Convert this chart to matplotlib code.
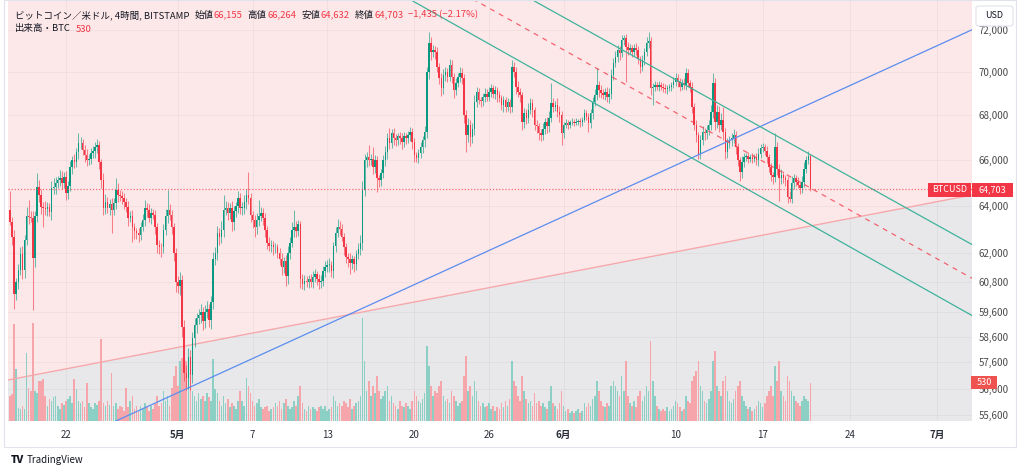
import numpy as np
import matplotlib.pyplot as plt
from matplotlib.transforms import blended_transform_factory
from matplotlib.patches import Rectangle, FancyBboxPatch
from matplotlib.ticker import NullLocator

plt.rcParams['font.family'] = ['Noto Sans CJK JP', 'DejaVu Sans']

W, H = 1024, 474

# 4h candles, first candle opens Apr 17 12:00 (day 0 = Apr 22 00:00)
first_day = -4.5
first_open = 63830
closes = [
    63320, 62650, 60320,
    60800, 61280, 61940, 61280, 62560, 63550, 63500, 63480, 61770, 63550, 64800, 64470,
    63960, 63900, 63850, 63950, 63740, 64760, 64800, 64980, 65110, 65200, 65000, 65230,
    64550, 64850, 65680, 65980, 65900, 66330, 66740, 66740, 66420, 66200, 65980, 66050,
    66300, 66400, 66560, 66650, 65900, 65110, 63900, 64170, 63900, 64050, 63830, 64100,
    64680, 64470, 64400, 64330, 64170, 63960, 63480, 63550, 63070, 62900, 62850, 62770,
    63100, 63400, 63900, 63830, 63480, 63700, 63620, 63100, 62350, 62250, 62230, 62980,
    63550, 63830, 63620, 63100, 62000, 60800, 60640, 60900, 59000, 57200, 57000, 57800,
    57100, 58550, 59050, 59340, 59460, 59600, 59230, 59600, 59720, 59270, 60000, 61730,
    62000, 62850, 62680, 62980, 63830, 63900, 63700, 63900, 63280, 63750, 63970, 64330,
    63900, 63900, 64170, 64470, 64330, 63620, 63400, 63100, 63400, 63550, 63700, 63480,
    62980, 62430, 62270, 62330, 62230, 62230, 62000, 61730, 61400, 61650, 61030, 62000,
    62430, 62980, 63100, 62900, 63200, 60920, 60720, 60850, 60800, 60920, 60800, 61000,
    61120, 60920, 60800, 60850, 61250, 61430, 61500, 61500, 61250, 62270, 62850, 63100,
    63000, 62680, 62230, 61850, 61730, 61600, 61730, 61530, 61940, 62150, 62430, 64680,
    65980, 66120, 65980, 66050, 65680, 65980, 65180, 65110, 65400, 65980, 66330, 66960,
    66740, 67190, 66960, 66870, 67050, 66960, 66780, 67050, 66960, 67100, 67230, 66780,
    66200, 66100, 66300, 66560, 66870, 67230, 70000, 71400, 70950, 71060, 70950, 70250,
    69730, 69260, 69870, 70000, 69780, 70340, 69780, 69170, 69500, 69780, 69960, 69730,
    68000, 67100, 67570, 67000, 67400, 68620, 69080, 68710, 68650, 68850, 69000, 68850,
    69080, 69260, 69000, 69170, 68930, 68800, 68480, 68710, 68400, 68620, 68400, 70250,
    70030, 69310, 69080, 68930, 67700, 68100, 67900, 68250, 68550, 68250, 67570, 67500,
    67180, 67100, 67400, 67700, 67500, 67900, 68550, 68400, 68480, 68180, 68000, 67190,
    67570, 67650, 67570, 67680, 67720, 67650, 67720, 67750, 67690, 67800, 68100, 67950,
    67650, 68100, 68620, 68940, 69400, 69170, 69040, 68940, 69100, 68850, 69000, 69870,
    70430, 70720, 71060, 70900, 71540, 71630, 71200, 71060, 71150, 70950, 71150, 71060,
    70620, 70250, 70580, 70950, 71400, 71480, 69260, 69330, 69400, 69330, 69400, 69330,
    69260, 69200, 69260, 69330, 69400, 69560, 69730, 69560, 69330, 69500, 69400, 69960,
    69500, 69330, 68400, 67570, 67100, 66280, 66870, 67230, 67180, 67320, 67570, 68180,
    69500, 67700, 68180, 67570, 67800, 67230, 66330, 66740, 66870, 66960, 67100, 66560,
    65980, 65450, 65900, 66120, 66150, 66050, 66120, 66050, 66120, 65980, 66280, 66520,
    66560, 66400, 66120, 65680, 65330, 65260, 66560, 65600, 65180, 65330, 65180, 65100,
    64380, 64300, 64980, 65180, 65040, 64900, 64760, 65040, 65600, 65980, 66155, 64703,
]
# wick lengths above / below the body, USD
wick_up = [
    820, 200, 300,
    150, 250, 300, 350, 200, 400, 700, 250, 300, 200, 620, 300,
    250, 200, 300, 200, 150, 300, 400, 250, 200, 350, 300, 250,
    300, 200, 250, 200, 300, 200, 450, 300, 200, 250, 300, 200,
    250, 200, 250, 300, 200, 150, 300, 350, 200, 250, 300, 250,
    520, 300, 200, 250, 200, 150, 250, 200, 250, 200, 150, 200,
    200, 250, 350, 200, 250, 200, 150, 200, 150, 200, 150, 250,
    300, 850, 250, 200, 150, 200, 250, 300, 200, 250, 300, 350,
    300, 250, 300, 200, 250, 300, 200, 250, 300, 200, 250, 300,
    250, 300, 200, 350, 640, 300, 250, 200, 300, 250, 200, 300,
    200, 250, 300, 250, 980, 200, 150, 200, 300, 700, 250, 200,
    200, 150, 250, 200, 150, 200, 150, 200, 250, 200, 250, 300,
    250, 300, 730, 250, 200, 150, 200, 250, 200, 150, 200, 250,
    200, 150, 200, 250, 200, 250, 200, 300, 150, 200, 250, 350,
    250, 200, 150, 200, 150, 250, 200, 150, 200, 250, 300, 400,
    300, 250, 530, 200, 510, 250, 200, 150, 200, 250, 300, 250,
    480, 200, 250, 200, 150, 200, 250, 200, 150, 200, 250, 200,
    200, 150, 200, 250, 200, 300, 250, 500, 300, 250, 200, 250,
    200, 250, 300, 250, 200, 300, 250, 200, 250, 200, 300, 250,
    200, 250, 300, 200, 250, 300, 250, 200, 150, 200, 250, 200,
    250, 200, 150, 200, 150, 200, 150, 200, 150, 200, 150, 330,
    250, 200, 300, 200, 150, 250, 200, 300, 250, 200, 150, 200,
    150, 200, 250, 200, 250, 300, 950, 250, 200, 300, 250, 200,
    150, 200, 150, 100, 150, 100, 150, 100, 150, 150, 200, 150,
    150, 200, 250, 300, 800, 200, 250, 200, 150, 200, 250, 300,
    250, 300, 250, 200, 250, 150, 200, 250, 200, 150, 200, 250,
    200, 150, 250, 200, 300, 420, 200, 150, 200, 150, 200, 150,
    150, 200, 150, 100, 150, 200, 250, 200, 150, 200, 250, 250,
    200, 150, 200, 150, 200, 150, 250, 300, 200, 250, 200, 300,
    460, 250, 300, 250, 300, 600, 200, 250, 200, 250, 300, 200,
    200, 150, 250, 200, 150, 200, 150, 200, 150, 200, 250, 200,
    200, 150, 200, 150, 200, 150, 620, 250, 200, 250, 200, 150,
    200, 250, 300, 200, 150, 200, 150, 250, 300, 200, 250, 109,
]
wick_dn = [
    150, 300, 600,
    250, 300, 200, 350, 300, 250, 300, 200, 2120, 350, 250, 300,
    300, 830, 250, 300, 200, 350, 250, 300, 200, 250, 300, 250,
    300, 250, 200, 300, 250, 200, 300, 250, 200, 300, 250, 200,
    250, 200, 300, 250, 300, 350, 300, 250, 200, 300, 980, 250,
    250, 300, 200, 250, 300, 250, 350, 200, 600, 300, 250, 300,
    250, 200, 250, 300, 200, 250, 200, 300, 350, 300, 420, 250,
    250, 300, 250, 300, 350, 400, 300, 350, 400, 300, 450, 400,
    550, 300, 350, 300, 250, 300, 350, 300, 250, 300, 350, 300,
    250, 300, 350, 250, 300, 250, 300, 250, 350, 300, 250, 300,
    250, 300, 250, 300, 250, 300, 350, 420, 300, 250, 200, 300,
    300, 250, 200, 250, 300, 250, 200, 250, 300, 250, 390, 300,
    250, 200, 300, 250, 200, 350, 200, 250, 200, 250, 200, 250,
    200, 250, 300, 250, 200, 250, 200, 300, 250, 300, 250, 200,
    250, 200, 300, 250, 300, 480, 250, 300, 250, 200, 250, 300,
    250, 300, 250, 200, 300, 250, 580, 300, 250, 200, 250, 300,
    250, 200, 300, 250, 200, 250, 300, 200, 250, 200, 250, 300,
    300, 200, 250, 200, 250, 300, 250, 300, 350, 250, 300, 250,
    300, 350, 250, 300, 250, 200, 300, 350, 250, 200, 250, 300,
    350, 770, 300, 400, 250, 300, 250, 200, 250, 200, 250, 200,
    200, 250, 200, 250, 300, 200, 250, 300, 250, 200, 300, 250,
    250, 300, 250, 300, 350, 260, 300, 250, 200, 300, 250, 300,
    300, 250, 200, 250, 300, 250, 200, 250, 200, 250, 300, 540,
    200, 150, 200, 150, 100, 150, 100, 150, 200, 150, 100, 150,
    420, 200, 250, 200, 250, 300, 250, 200, 250, 230, 300, 250,
    250, 200, 250, 300, 200, 250, 1640, 250, 200, 250, 200, 250,
    250, 300, 200, 250, 200, 250, 300, 780, 200, 150, 200, 150,
    200, 150, 200, 150, 200, 150, 200, 250, 200, 150, 200, 250,
    200, 250, 300, 250, 300, 230, 250, 200, 300, 250, 200, 250,
    300, 350, 250, 300, 250, 350, 300, 250, 200, 250, 200, 300,
    250, 380, 250, 200, 150, 200, 150, 200, 150, 200, 250, 200,
    150, 200, 250, 200, 250, 300, 250, 250, 1000, 250, 200, 250,
    250, 150, 200, 250, 200, 150, 250, 200, 250, 200, 150, 71,
]
# volume, BTC
volume = [
    350, 380, 1350,
    730, 180, 170, 210, 170, 950, 460, 420, 1370, 420, 390, 560,
    560, 590, 350, 210, 310, 280, 340, 350, 210, 170, 250, 220,
    280, 310, 350, 250, 590, 450, 280, 250, 280, 200, 530, 250,
    200, 170, 250, 220, 280, 1150, 250, 210, 280, 220, 670, 210,
    250, 170, 210, 200, 140, 460, 200, 280, 350, 170, 210, 140,
    210, 170, 250, 200, 140, 210, 170, 240, 350, 210, 250, 420,
    280, 350, 210, 460, 630, 770, 490, 840, 880, 980, 840, 700,
    630, 420, 350, 280, 390, 310, 350, 280, 390, 340, 280, 870,
    450, 390, 280, 210, 350, 250, 310, 200, 250, 210, 170, 280,
    420, 280, 210, 600, 490, 390, 280, 210, 250, 310, 200, 170,
    200, 210, 140, 170, 200, 250, 210, 280, 170, 250, 310, 210,
    170, 200, 280, 210, 350, 490, 250, 170, 140, 210, 170, 200,
    170, 140, 200, 210, 170, 210, 140, 170, 200, 350, 280, 210,
    250, 210, 280, 250, 200, 310, 170, 210, 250, 280, 350, 1430,
    840, 420, 560, 350, 490, 390, 630, 420, 310, 350, 420, 490,
    280, 350, 250, 210, 170, 280, 210, 200, 250, 210, 170, 280,
    420, 350, 280, 250, 310, 390, 1050, 770, 490, 350, 420, 390,
    490, 560, 350, 280, 310, 250, 420, 350, 280, 210, 250, 280,
    630, 910, 420, 490, 350, 560, 420, 280, 210, 250, 200, 210,
    250, 170, 210, 140, 200, 170, 250, 200, 280, 210, 310, 840,
    560, 490, 350, 280, 630, 420, 310, 250, 280, 210, 390, 250,
    280, 210, 250, 200, 170, 280, 490, 250, 210, 170, 250, 420,
    210, 140, 170, 110, 140, 110, 140, 170, 110, 140, 250, 200,
    250, 210, 310, 350, 560, 420, 280, 210, 200, 250, 210, 490,
    560, 490, 420, 350, 630, 420, 840, 350, 250, 210, 280, 200,
    350, 420, 280, 350, 490, 420, 1120, 560, 350, 210, 170, 140,
    170, 140, 200, 140, 170, 210, 280, 250, 200, 140, 170, 350,
    280, 250, 560, 630, 700, 840, 490, 420, 280, 250, 310, 420,
    840, 980, 490, 420, 350, 560, 630, 420, 280, 250, 310, 420,
    490, 560, 350, 280, 210, 170, 200, 140, 170, 210, 280, 250,
    200, 250, 350, 420, 490, 350, 770, 560, 840, 420, 350, 280,
    630, 560, 420, 350, 280, 250, 210, 280, 350, 310, 280, 530,
]
last_price = 64703
last_volume = 530

price_ticks = [72000, 70000, 68000, 66000, 64000, 62000, 60800, 59600, 58600, 57600, 56600, 55600]
tick_days = [0, 9, 15, 21, 28, 34, 40, 49, 56, 63, 70]
tick_labels = ['22', '5月', '7', '13', '20', '26', '6月', '10', '17', '24', '7月']
month_labels = ['5月', '6月', '7月']

# drawings: (days, prices)
pink_line = ([-4.66, 72.83], [56925, 64460])
blue_line = ([4.02, 72.83], [55380, 72030])
chan_upper = ([36.5, 72.83], [73830, 62350])
chan_mid = ([32.5, 72.83], [73600, 60950])
chan_lower = ([26.85, 72.83], [73790, 59445])

UP = '#089981'
DOWN = '#F23645'

n = len(closes)
days = first_day + np.arange(n) / 6.0
c = np.array(closes, float)
o = np.array([first_open] + closes[:-1], float)
hi = np.maximum(o, c) + np.array(wick_up)
lo = np.minimum(o, c) - np.array(wick_dn)
up = c >= o
cols = np.where(up, UP, DOWN)

fig = plt.figure(figsize=(W / 100, H / 100), dpi=100)
ax = fig.add_axes([8 / W, 1 - 421 / H, 964 / W, 421 / H])
ax.set_yscale('log')
ax.set_facecolor('#FDE8E9')

# shaded zone under the pink line
ax.fill_between(pink_line[0], pink_line[1], 40000, color='#E8E8EB', lw=0, zorder=0.2)
ax.plot(pink_line[0], pink_line[1], color='#F6A9AD', lw=1.0, zorder=1.5)

# volume overlay
vtrans = blended_transform_factory(ax.transData, ax.transAxes)
vmax = 5872
vcols = np.where(up, '#8CCFC4', '#F6A6AB')
ax.bar(days, np.array(volume) / vmax, width=0.13, bottom=0, color=vcols,
       transform=vtrans, zorder=1, lw=0)

# candles
ax.vlines(days, lo, hi, colors=cols, lw=0.75, alpha=0.6, zorder=2.5)
body_h = np.maximum(np.abs(c - o), 30)
ax.bar(days, body_h, bottom=np.minimum(o, c), width=0.12, color=cols, lw=0, zorder=3)

# drawings
ax.plot(blue_line[0], blue_line[1], color='#5B8DEF', lw=0.9, zorder=4)
ax.plot(chan_upper[0], chan_upper[1], color='#3FB39B', lw=0.9, zorder=4)
ax.plot(chan_lower[0], chan_lower[1], color='#3FB39B', lw=0.9, zorder=4)
ax.plot(chan_mid[0], chan_mid[1], color='#F23645', lw=0.9, ls=(0, (4, 4)), alpha=0.75, zorder=4)
ax.axhline(last_price, color='#F23645', lw=0.9, ls=(0, (1, 1.5)), alpha=0.7, zorder=4)

# axes
ax.set_xlim(-4.662, 72.83)
ax.set_ylim(55378, 73485)
ax.yaxis.set_minor_locator(NullLocator())
ax.set_yticks(price_ticks)
ax.set_yticklabels([f'{p:,}' for p in price_ticks])
ax.yaxis.tick_right()
ax.tick_params(axis='y', length=0, pad=4.5, labelsize=7, labelcolor='#4A4A4A')
ax.set_xticks(tick_days)
ax.set_xticklabels(tick_labels)
ax.tick_params(axis='x', length=0, pad=6.5, labelsize=7, labelcolor='#2A2E39')
for t in ax.get_xticklabels():
    if t.get_text() in month_labels:
        t.set_fontweight('bold')
ax.grid(True, color='#000000', alpha=0.035, lw=0.8)
ax.set_axisbelow(True)
for s in ax.spines.values():
    s.set_visible(False)


def fx(x):
    return x / W


def fy(y):
    return 1 - y / H


def box(x0, y0, x1, y1, fc, text, tc='white', size=6.5):
    fig.patches.append(Rectangle((fx(x0), fy(y1)), (x1 - x0) / W, (y1 - y0) / H,
                                 transform=fig.transFigure, fc=fc, ec='none', zorder=10))
    fig.text(fx((x0 + x1) / 2), fy((y0 + y1) / 2), text, color=tc, fontsize=size,
             ha='center', va='center', zorder=11)


box(928, 183, 971, 197, DOWN, 'BTCUSD')
box(972, 183, 1013, 197, DOWN, f'{last_price:,}')
box(971, 376, 997, 389, '#EF5350', str(last_volume))

fig.patches.append(FancyBboxPatch((fx(976), fy(26)), 37 / W, 20 / H,
                                  boxstyle='round,pad=0,rounding_size=0.004',
                                  transform=fig.transFigure, fc='white', ec='#E0E3EB',
                                  lw=0.8, zorder=10))
fig.text(fx(994.5), fy(16), 'USD', fontsize=6.5, color='#131722', ha='center', va='center', zorder=11)

# frame
fig.patches.append(Rectangle((fx(4), fy(446.5)), 1011.5 / W, 446.5 / H, transform=fig.transFigure,
                             fc='none', ec='#E0E3EB', lw=0.8, zorder=9))

# legend lines, placed one after another
dark = '#131722'
renderer = fig.canvas.get_renderer()


def text_row(y, pieces, x=15, size=6.8):
    for s, col, gap in pieces:
        t = fig.text(fx(x), fy(y), s, fontsize=size, color=col, ha='left', va='center', zorder=12)
        x = t.get_window_extent(renderer).x1 + gap


text_row(15, [
    ('ビットコイン／米ドル, 4時間, BITSTAMP', dark, 5),
    ('始値', dark, 0.5), ('66,155', DOWN, 5),
    ('高値', dark, 0.5), ('66,264', DOWN, 5),
    ('安値', dark, 0.5), ('64,632', DOWN, 5),
    ('終値', dark, 0.5), ('64,703', DOWN, 4),
    ('−1,435 (−2.17%)', DOWN, 0),
])
text_row(29, [('出来高・BTC', dark, 5), (str(last_volume), DOWN, 0)])

# footer
fig.text(fx(11), fy(460), 'TV', fontsize=7.5, fontweight='heavy', color=dark, ha='left', va='center')
fig.text(fx(27), fy(460), 'TradingView', fontsize=7, color=dark, ha='left', va='center')

fig.savefig('out.png', dpi=100)
